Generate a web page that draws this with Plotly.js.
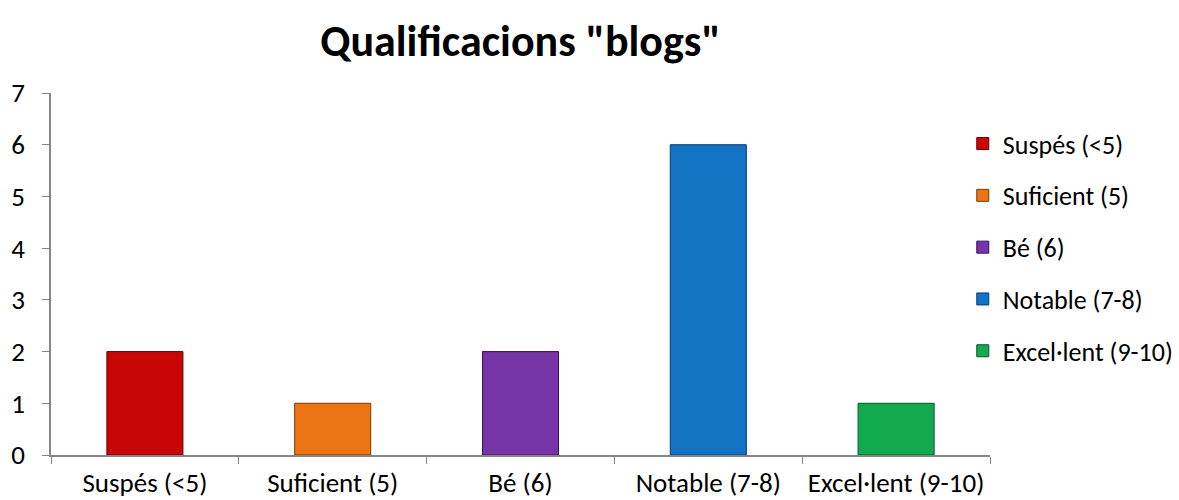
<!DOCTYPE html>
<html><head><meta charset="utf-8">
<script src="https://cdn.plot.ly/plotly-3.0.1.min.js"></script>
<style>html,body{margin:0;padding:0;background:#fff}#c{width:1179px;height:500px}</style>
</head><body><div id="c"></div>
<script>
const categories = ["Suspés (<5)", "Suficient (5)", "Bé (6)", "Notable (7-8)", "Excel·lent (9-10)"];
const values = [2, 1, 2, 6, 1];
const colors = ["#C90606", "#EC7412", "#7634A6", "#1273C4", "#13A94E"];
const edges = ["#6A0000", "#7A3A00", "#3A1060", "#063C6E", "#05552A"];
const yTicks = [0, 1, 2, 3, 4, 5, 6, 7];
const FONT = "Carlito, Calibri, Lato, sans-serif";

const traces = categories.map((c, i) => ({
  type: "bar",
  name: c,
  x: [c],
  y: [values[i]],
  width: 0.405,
  legendgroup: "g" + i,
  marker: {color: colors[i], line: {color: edges[i], width: 1}},
  hoverinfo: "x+y"
}));

const layout = {
  width: 1179, height: 500,
  margin: {l: 51, r: 189, t: 93, b: 45, autoexpand: false},
  paper_bgcolor: "#fff", plot_bgcolor: "#fff",
  barmode: "overlay",
  font: {family: FONT, size: 27, color: "#000"},
  title: {text: "<b>Qualificacions \"blogs\"</b>", font: {family: FONT, size: 44, color: "#000"},
          x: 0.5, xanchor: "center", xref: "paper", y: 0.918, yanchor: "middle", yref: "container"},
  xaxis: {type: "category", categoryorder: "array", categoryarray: categories,
          showline: true, linecolor: "#868686", linewidth: 1.5, ticks: "outside", tickson: "boundaries",
          ticklen: 7, tickcolor: "#868686", showgrid: false, zeroline: false, ticklabelstandoff: 3,
          tickfont: {family: FONT, size: 27}},
  yaxis: {range: [0, 7], tickvals: yTicks, showline: true, linecolor: "#868686", linewidth: 1.5,
          ticks: "outside", ticklen: 7, tickcolor: "#868686", showgrid: false, zeroline: false,
          ticklabelstandoff: 12, tickfont: {family: FONT, size: 27}},
  legend: {x: 0.971, xanchor: "left", y: 0.925, yanchor: "top", traceorder: "grouped",
           tracegroupgap: 15, font: {family: FONT, size: 26}, itemwidth: 30},
  showlegend: true
};

Plotly.newPlot("c", traces, layout, {displayModeBar: false});
</script></body></html>
